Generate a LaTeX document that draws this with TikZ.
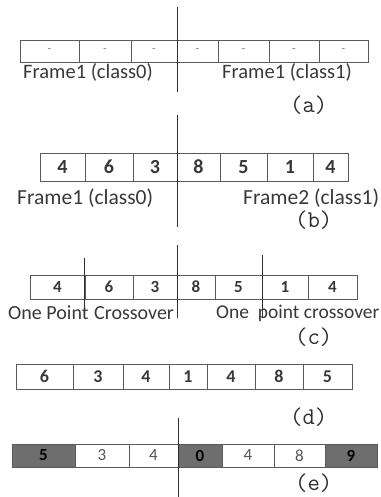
\documentclass[tikz,border=0pt]{standalone}
\usepackage{fontspec}
\setmainfont{Carlito}
\definecolor{boxline}{HTML}{5A5A5A}
\definecolor{txt}{HTML}{383838}
\definecolor{dark}{HTML}{6E6E6E}
\definecolor{vline}{HTML}{2E2E2E}
\definecolor{softtxt}{HTML}{555555}
\begin{document}
\begin{tikzpicture}[x=1pt,y=-1pt,
  cell/.style={draw=boxline,line width=0.9pt,inner sep=0pt,text=txt,font=\fontsize{#1}{#1}\selectfont\bfseries},
  cell/.default=17,
  darkcell/.style={cell=#1,fill=dark,text=black},
  darkcell/.default=17,
  lightcell/.style={cell=#1,text=softtxt,font=\fontsize{#1}{#1}\selectfont},
  lbl/.style={anchor=west,inner sep=0pt,text=txt,font=\fontsize{#1}{#1}\selectfont},
  lbl/.default=17,
  tag/.style={anchor=west,inner sep=0pt,text=vline,font=\fontsize{24}{24}\selectfont\ttfamily},
  cut/.style={draw=vline,line width=0.9pt}]
\useasboundingbox (0,0) rectangle (380,497);
% row (a)
\foreach \l/\r/\t [count=\i] in {20/79/-,79/131/-,131/177/-,177/218/-,218/269/-,269/319/-,319/368/-}
  \node[lightcell=12,text=gray,minimum width={(\r-\l)*1pt},minimum height=22pt] (a\i) at ({(\l+\r)/2},51) {\t};
\node[lbl=20.5] (la1) at (23,72) {Frame1 (class0)};
\node[lbl=20.5] (la2) at (222,72) {Frame1 (class1)};
\node[tag] (ta) at (290,105) {(a)};
\coordinate (a0t) at (177,7); \coordinate (a0b) at (177,92);
\draw[cut] (a0t) -- (a0b);
% row (b)
\foreach \l/\r/\t [count=\i] in {40/85/4,85/133/6,133/177/3,177/220/8,220/267/5,267/313/1,313/348/4}
  \node[cell=20,minimum width={(\r-\l)*1pt},minimum height=28pt] (b\i) at ({(\l+\r)/2},167) {\t};
\node[lbl=21.5] (lb1) at (17,198) {Frame1 (class0)};
\node[lbl=21.5] (lb2) at (243,198) {Frame2 (class1)};
\node[tag] (tb) at (295,220) {(b)};
\coordinate (b0t) at (177,115); \coordinate (b0b) at (177,227);
\draw[cut] (b0t) -- (b0b);
% row (c)
\foreach \l/\r/\t [count=\i] in {30/85/4,85/133/6,133/177/3,177/215/8,215/262/5,262/308/1,308/357/4}
  \node[cell=17,minimum width={(\r-\l)*1pt},minimum height=24pt] (c\i) at ({(\l+\r)/2},287) {\t};
\node[lbl=20] (lc1) at (8,313) {One Point};
\node[lbl=20] (lc2) at (94,313) {Crossover};
\node[lbl=19.5] (lc3) at (216,313) {One\hspace{0.45em}point crossover};
\node[tag] (tc) at (295,337) {(c)};
\coordinate (c0t) at (177,245); \coordinate (c0b) at (177,318);
\coordinate (c1t) at (84,258); \coordinate (c1b) at (84,314);
\coordinate (c2t) at (262,255); \coordinate (c2b) at (262,318);
\draw[cut] (c0t) -- (c0b);
\draw[cut] (c1t) -- (c1b);
\draw[cut] (c2t) -- (c2b);
% row (d)
\foreach \l/\r/\t [count=\i] in {16/73/6,73/123/3,123/169/4,169/207/1,207/255/4,255/303/8,303/352/5}
  \node[cell=18,minimum width={(\r-\l)*1pt},minimum height=25pt] (d\i) at ({(\l+\r)/2},376.5) {\t};
\node[tag] (td) at (290,417) {(d)};
% row (e)
\node[darkcell=17,minimum width=63pt,minimum height=23pt] (e1) at (43.5,455.5) {5};
\node[lightcell=17,minimum width=54pt,minimum height=23pt] (e2) at (102,455.5) {3};
\node[lightcell=17,minimum width=49pt,minimum height=23pt] (e3) at (153.5,455.5) {4};
\node[darkcell=17,minimum width=44pt,minimum height=23pt] (e4) at (200,455.5) {0};
\node[lightcell=17,minimum width=52pt,minimum height=23pt] (e5) at (248,455.5) {4};
\node[lightcell=17,minimum width=51pt,minimum height=23pt] (e6) at (299.5,455.5) {8};
\node[darkcell=17,minimum width=52pt,minimum height=23pt] (e7) at (351,455.5) {9};
\node[tag] (te) at (295,483) {(e)};
\coordinate (e0t) at (178,418); \coordinate (e0b) at (178,497);
\draw[cut] (e0t) -- (e0b);
\end{tikzpicture}
\end{document}
